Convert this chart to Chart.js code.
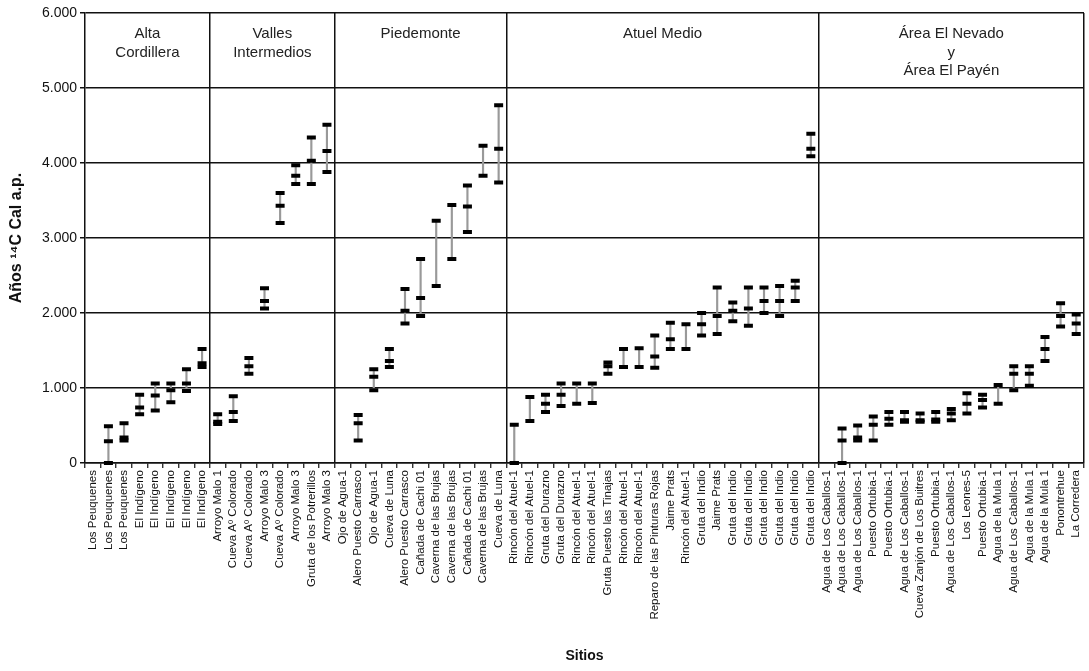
<!DOCTYPE html>
<html>
<head>
<meta charset="utf-8">
<script src="https://cdn.jsdelivr.net/npm/chart.js@4/dist/chart.umd.min.js"></script>
<style>
html,body{margin:0;padding:0;background:#fff;}
#wrap{width:1089px;height:671px;}
</style>
</head>
<body>
<div id="wrap"><canvas id="c" width="1089" height="671"></canvas></div>
<script>
const categories = [
 "Los Peuquenes","Los Peuquenes","Los Peuquenes","El Indígeno","El Indígeno","El Indígeno","El Indígeno","El Indígeno",
 "Arroyo Malo 1","Cueva Aº Colorado","Cueva Aº Colorado","Arroyo Malo 3","Cueva Aº Colorado","Arroyo Malo 3","Gruta de los Potrerillos","Arroyo Malo 3",
 "Ojo de Agua-1","Alero Puesto Carrasco","Ojo de Agua-1","Cueva de Luna","Alero Puesto Carrasco","Cañada de Cachi 01","Caverna de las Brujas","Caverna de las Brujas","Cañada de Cachi 01","Caverna de las Brujas","Cueva de Luna",
 "Rincón del Atuel-1","Rincón del Atuel-1","Gruta del Durazno","Gruta del Durazno","Rincón del Atuel-1","Rincón del Atuel-1","Gruta Puesto las Tinajas","Rincón del Atuel-1","Rincón del Atuel-1","Reparo de las Pinturas Rojas","Jaime Prats","Rincón del Atuel-1","Gruta del Indio","Jaime Prats","Gruta del Indio","Gruta del Indio","Gruta del Indio","Gruta del Indio","Gruta del Indio","Gruta del Indio",
 "Agua de Los Caballos-1","Agua de Los Caballos-1","Agua de Los Caballos-1","Puesto Ortubia-1","Puesto Ortubia-1","Agua de Los Caballos-1","Cueva Zanjón de Los Buitres","Puesto Ortubia-1","Agua de Los Caballos-1","Los Leones-5","Puesto Ortubia-1","Agua de la Mula 1","Agua de Los Caballos-1","Agua de la Mula 1","Agua de la Mula 1","Ponontrehue","La Corredera"
];
const maxVals = [
 null,490,530,910,1060,1060,1250,1520,
 650,890,1400,2330,3600,3970,4340,4510,
 null,640,1250,1520,2320,2720,3230,3440,3700,4230,4770,
 510,880,910,1060,1060,1060,1340,1520,1530,1700,1870,1850,2000,2340,2140,2340,2340,2360,2430,4390,
 null,460,500,620,680,680,660,680,720,930,910,1040,1290,1290,1680,2130,1980
];
const medVals = [
 null,290,340,740,900,970,1060,1330,
 550,680,1290,2160,3430,3830,4030,4160,
 null,530,1150,1360,2030,2200,null,null,3420,null,4190,
 0,null,790,910,null,null,1290,null,null,1420,1650,null,1850,1960,2030,2060,2160,2160,2340,4190,
 null,300,340,510,590,570,570,580,660,790,840,null,1190,1190,1520,1960,1860
];
const minVals = [
 null,0,300,650,700,810,960,1280,
 520,560,1190,2060,3200,3720,3720,3880,
 null,300,970,1280,1860,1960,2360,2720,3080,3830,3740,
 0,560,680,760,790,800,1190,1280,1280,1270,1520,1520,1700,1720,1890,1830,2000,1960,2160,4090,
 null,0,300,300,510,550,550,550,570,660,740,790,970,1030,1360,1820,1720
];
const yTicks = [0,1000,2000,3000,4000,5000,6000];
const yTickLabels = ["0","1.000","2.000","3.000","4.000","5.000","6.000"];
const regionStarts = [0,8,16,27,47];
const regionEnds = [7,15,26,46,63];
const regionNames = [["Alta","Cordillera"],["Valles","Intermedios"],["Piedemonte"],["Atuel Medio"],["Área El Nevado","y","Área El Payén"]];

const FONT = "'Liberation Sans', Arial, sans-serif";
const sepIdx = regionStarts.slice(1);
const ranges = categories.map((_, i) => (maxVals[i] == null ? null : [minVals[i], maxVals[i]]));

const regionPlugin = {
  id: 'regions',
  afterDatasetsDraw(chart) {
    const x = chart.scales.x, ctx = chart.ctx, top = chart.chartArea.top;
    ctx.save();
    ctx.fillStyle = '#222';
    ctx.font = '15px ' + FONT;
    ctx.textAlign = 'center';
    ctx.textBaseline = 'middle';
    regionNames.forEach((lines, r) => {
      const cx = (x.getPixelForValue(regionStarts[r]) + x.getPixelForValue(regionEnds[r])) / 2;
      lines.forEach((t, k) => ctx.fillText(t, cx, top + 21 + k * 18.5));
    });
    ctx.restore();
  }
};

const capStyle = {
  type: 'line', showLine: false, pointStyle: 'line', pointRadius: 4.5, pointHoverRadius: 4.5,
  pointBorderWidth: 4, pointHoverBorderWidth: 4, borderColor: '#000', backgroundColor: '#000',
  pointBorderColor: '#000', clip: false, order: 0
};

new Chart(document.getElementById('c'), {
  type: 'bar',
  data: {
    labels: categories,
    datasets: [
      { type: 'bar', data: ranges, backgroundColor: '#999', barThickness: 1.5, borderWidth: 0, order: 1, clip: false },
      Object.assign({ data: maxVals }, capStyle),
      Object.assign({ data: medVals }, capStyle),
      Object.assign({ data: minVals }, capStyle)
    ]
  },
  options: {
    responsive: false,
    animation: false,
    events: [],
    layout: { autoPadding: false, padding: { top: 13, right: 5, bottom: 6, left: 0 } },
    plugins: { legend: { display: false }, tooltip: { enabled: false } },
    scales: {
      x: {
        offset: true,
        grid: {
          offset: true,
          color: c => (c.type === 'scale' || sepIdx.includes(c.index)) ? '#111' : 'rgba(0,0,0,0)',
          lineWidth: 1.5, tickColor: '#111', tickLength: 5, tickWidth: 1.2
        },
        border: { color: '#111', width: 1.5 },
        ticks: { autoSkip: false, maxRotation: 90, minRotation: 90, color: '#111', padding: 2,
                 font: { family: FONT, size: 11.5 } },
        title: { display: true, text: 'Sitios', color: '#111', font: { family: FONT, size: 14, weight: 'bold' }, padding: { top: 0, bottom: 0 } },
        afterFit: s => { s.height = 671 - 463 - 6; s.paddingRight = 0; s.paddingLeft = 0; }
      },
      y: {
        min: 0, max: 6000,
        afterBuildTicks: s => { s.ticks = yTicks.map(v => ({ value: v })); },
        ticks: { color: '#111', padding: 3, font: { family: FONT, size: 14 },
                 callback: (v) => yTickLabels[yTicks.indexOf(v)] },
        grid: { color: '#111', lineWidth: 1.5, tickLength: 5 },
        border: { color: '#111', width: 1.5 },
        title: { display: true, text: 'Años ¹⁴C Cal a.p.', color: '#111', font: { family: FONT, size: 16, weight: 'bold' }, padding: { top: 7, bottom: 0 } },
        afterFit: s => { s.width = 85; }
      }
    }
  },
  plugins: [regionPlugin]
});
</script>
</body>
</html>
